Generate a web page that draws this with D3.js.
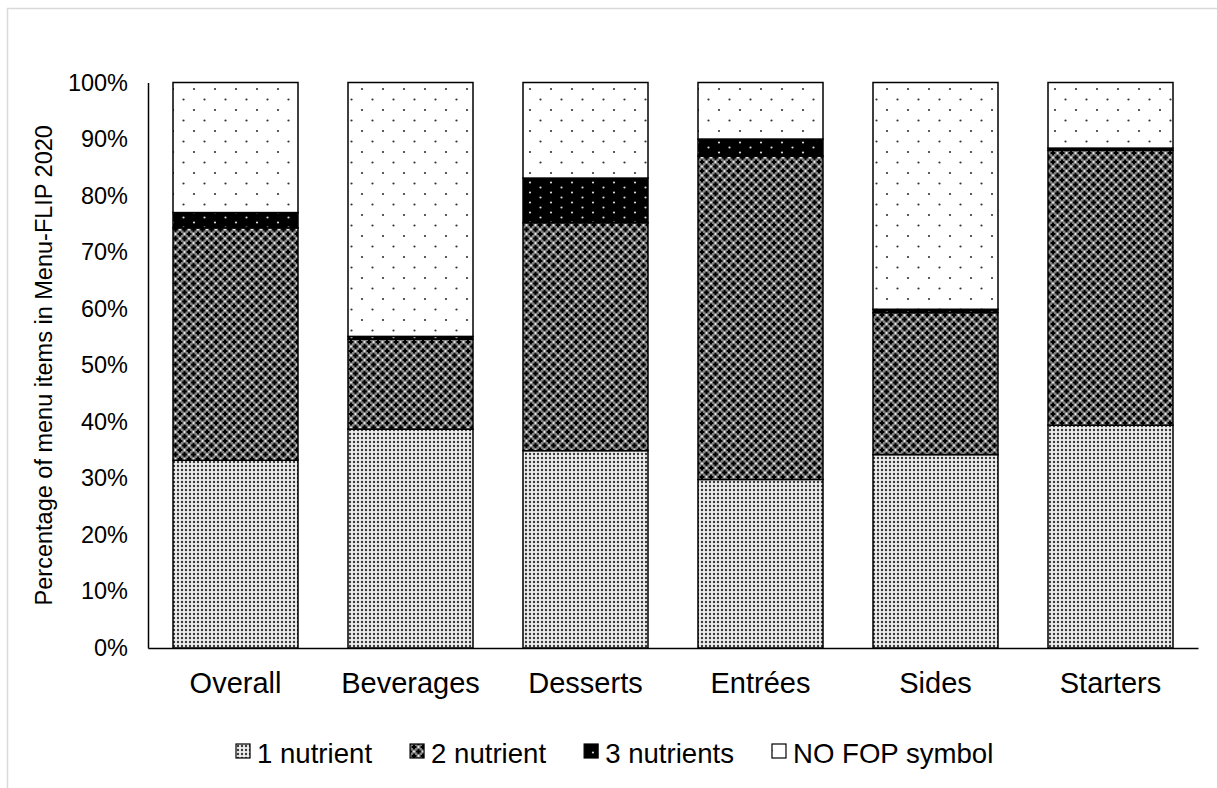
<!DOCTYPE html>
<html>
<head>
<meta charset="utf-8">
<script src="https://cdn.jsdelivr.net/npm/d3@7"></script>
<style>
  html, body { margin: 0; padding: 0; background: #fff; }
  svg { display: block; font-family: "Liberation Sans", Arial, sans-serif; }
</style>
</head>
<body>
<svg id="chart" width="1217" height="788"></svg>
<script>
// ---- data ----
const categories = ["Overall", "Beverages", "Desserts", "Entrées", "Sides", "Starters"];
const oneNutrient   = [33.2, 38.7, 34.9, 29.8, 34.2, 39.4];
const twoNutrient   = [41.1, 15.9, 40.3, 57.2, 25.1, 48.6];
const threeNutrient = [2.7, 0.5, 7.9, 3.0, 0.6, 0.4];
const noFop         = [23.0, 44.9, 16.9, 10.0, 40.1, 11.6];
const seriesNames = ["1 nutrient", "2 nutrient", "3 nutrients", "NO FOP symbol"];
const yTicks = [0, 10, 20, 30, 40, 50, 60, 70, 80, 90, 100];
const yTitle = "Percentage of menu items in Menu-FLIP 2020";

const svg = d3.select("#chart");
const plot = { left: 148, right: 1198, top: 82.5, bottom: 648 };

// outer light border
svg.append("rect").attr("x", 7.5).attr("y", 8.5).attr("width", 1400).attr("height", 1000)
  .attr("fill", "none").attr("stroke", "#d9d9d9").attr("stroke-width", 1.5);

// ---- patterns ----
const defs = svg.append("defs");
function pat(id, w, h, build) {
  const p = defs.append("pattern").attr("id", id).attr("patternUnits", "userSpaceOnUse")
    .attr("width", w).attr("height", h);
  build(p);
}
pat("p1", 4, 4, p => {
  p.append("rect").attr("width", 4).attr("height", 4).attr("fill", "#eeeeee");
  p.append("circle").attr("cx", 2).attr("cy", 2).attr("r", 1.2).attr("fill", "#3a3a3a");
});
pat("p2", 9, 9, p => {
  p.append("rect").attr("width", 9).attr("height", 9).attr("fill", "#808080");
  const crosses = [[4.5, 4.5], [0, 0], [9, 0], [0, 9], [9, 9]];
  crosses.forEach(([cx, cy]) => {
    p.append("rect").attr("x", cx - 1).attr("y", cy - 2.4).attr("width", 2).attr("height", 4.8).attr("fill", "#000");
    p.append("rect").attr("x", cx - 2.4).attr("y", cy - 1).attr("width", 4.8).attr("height", 2).attr("fill", "#000");
  });
  [[4.5, 0], [0, 4.5], [9, 4.5], [4.5, 9]].forEach(([cx, cy]) =>
    p.append("circle").attr("cx", cx).attr("cy", cy).attr("r", 1).attr("fill", "#f0f0f0"));
});
pat("p3", 21, 10, p => {
  p.append("rect").attr("width", 21).attr("height", 10).attr("fill", "#000");
  p.append("circle").attr("cx", 5).attr("cy", 2.5).attr("r", 1.1).attr("fill", "#d8d8d8");
  p.append("circle").attr("cx", 15.5).attr("cy", 7.5).attr("r", 1.1).attr("fill", "#d8d8d8");
});
pat("p4", 21, 21, p => {
  p.append("rect").attr("width", 21).attr("height", 21).attr("fill", "#fff");
  p.append("circle").attr("cx", 5).attr("cy", 5).attr("r", 1.1).attr("fill", "#333");
  p.append("circle").attr("cx", 15.5).attr("cy", 15.5).attr("r", 1.1).attr("fill", "#333");
});
const fills = ["url(#p1)", "url(#p2)", "url(#p3)", "url(#p4)"];

// ---- scales ----
const x = d3.scaleBand().domain(categories).range([plot.left, plot.right])
  .paddingInner(50 / 175).paddingOuter(25 / 175);
const y = d3.scaleLinear().domain([0, 100]).range([plot.bottom, plot.top]);

const table = categories.map((c, i) => ({
  cat: c, s0: oneNutrient[i], s1: twoNutrient[i], s2: threeNutrient[i], s3: noFop[i]
}));
const stack = d3.stack().keys(["s0", "s1", "s2", "s3"])(table);

// bars
stack.forEach((layer, li) => {
  svg.append("g").selectAll("rect").data(layer).join("rect")
    .attr("x", d => x(d.data.cat))
    .attr("y", d => y(d[1]))
    .attr("width", x.bandwidth())
    .attr("height", d => y(d[0]) - y(d[1]))
    .attr("fill", fills[li])
    .attr("stroke", "#000").attr("stroke-width", 1.5);
});

// axes
const yAxis = d3.axisLeft(y).tickValues(yTicks).tickSize(0).tickPadding(20)
  .tickFormat(d => d + "%");
const gy = svg.append("g").attr("transform", `translate(${plot.left},0)`).call(yAxis);
gy.select(".domain").attr("stroke", "#000").attr("stroke-width", 1.5);
gy.selectAll("text").attr("font-size", 23.5).attr("fill", "#000")
  .attr("font-family", "Liberation Sans, Arial, sans-serif");

const xAxis = d3.axisBottom(x).tickSize(0).tickPadding(24);
const gx = svg.append("g").attr("transform", `translate(0,${plot.bottom})`).call(xAxis);
gx.select(".domain").attr("stroke", "#000").attr("stroke-width", 1.5);
gx.selectAll("text").attr("font-size", 29).attr("fill", "#000")
  .attr("font-family", "Liberation Sans, Arial, sans-serif");

// y title
svg.append("text")
  .attr("transform", `translate(52,${(plot.top + plot.bottom) / 2}) rotate(-90)`)
  .attr("text-anchor", "middle").attr("font-size", 23.5).attr("fill", "#000")
  .text(yTitle);

// legend
const legY = 763;
let lx = 236;
seriesNames.forEach((name, i) => {
  svg.append("rect").attr("x", lx).attr("y", legY - 19).attr("width", 14).attr("height", 14)
    .attr("fill", fills[i]).attr("stroke", "#000").attr("stroke-width", 1.2);
  const t = svg.append("text").attr("x", lx + 21).attr("y", legY)
    .attr("font-size", 27.6).attr("fill", "#000").text(name);
  lx += 21 + t.node().getComputedTextLength() + 38;
});
</script>
</body>
</html>
